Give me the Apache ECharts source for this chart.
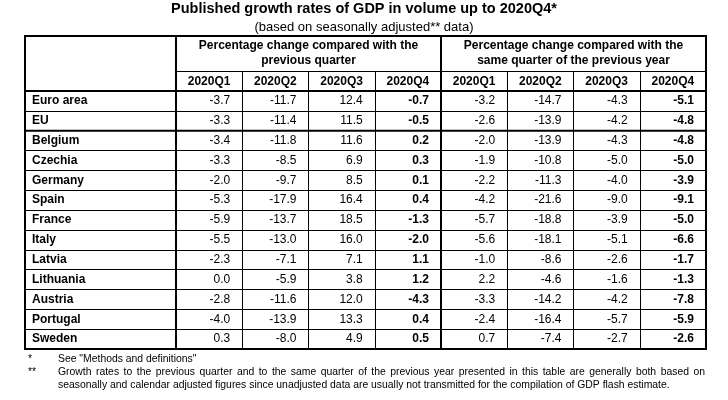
<!DOCTYPE html>
<html>
<head>
<meta charset="utf-8">
<title>Published growth rates of GDP</title>
<script src="https://cdn.jsdelivr.net/npm/echarts@6/dist/echarts.min.js"></script>
<style>
html, body { margin: 0; padding: 0; background: #fff; }
#main { width: 728px; height: 400px; }
</style>
</head>
<body>
<div id="main"></div>
<script>
var countries = ['Euro area', 'EU', 'Belgium', 'Czechia', 'Germany', 'Spain', 'France',
    'Italy', 'Latvia', 'Lithuania', 'Austria', 'Portugal', 'Sweden'];
var quarters = ['2020Q1', '2020Q2', '2020Q3', '2020Q4'];
var groupHeaders = ['Percentage change compared with the\nprevious quarter',
    'Percentage change compared with the\nsame quarter of the previous year'];

// change on previous quarter
var qoqQ1 = [-3.7, -3.3, -3.4, -3.3, -2.0, -5.3, -5.9, -5.5, -2.3, 0.0, -2.8, -4.0, 0.3];
var qoqQ2 = [-11.7, -11.4, -11.8, -8.5, -9.7, -17.9, -13.7, -13.0, -7.1, -5.9, -11.6, -13.9, -8.0];
var qoqQ3 = [12.4, 11.5, 11.6, 6.9, 8.5, 16.4, 18.5, 16.0, 7.1, 3.8, 12.0, 13.3, 4.9];
var qoqQ4 = [-0.7, -0.5, 0.2, 0.3, 0.1, 0.4, -1.3, -2.0, 1.1, 1.2, -4.3, 0.4, 0.5];
// change on same quarter of previous year
var yoyQ1 = [-3.2, -2.6, -2.0, -1.9, -2.2, -4.2, -5.7, -5.6, -1.0, 2.2, -3.3, -2.4, 0.7];
var yoyQ2 = [-14.7, -13.9, -13.9, -10.8, -11.3, -21.6, -18.8, -18.1, -8.6, -4.6, -14.2, -16.4, -7.4];
var yoyQ3 = [-4.3, -4.2, -4.3, -5.0, -4.0, -9.0, -3.9, -5.1, -2.6, -1.6, -4.2, -5.7, -2.7];
var yoyQ4 = [-5.1, -4.8, -4.8, -5.0, -3.9, -9.1, -5.0, -6.6, -1.7, -1.3, -7.8, -5.9, -2.6];

var note1 = 'See "Methods and definitions"';
var note2a = 'Growth rates to the previous quarter and to the same quarter of the previous year presented in this table are generally both based on';
var note2b = 'seasonally and calendar adjusted figures since unadjusted data are usually not transmitted for the compilation of GDP flash estimate.';

var FONT = '"Liberation Sans", Arial, sans-serif';
var NOTE_FONT = '10.4px ' + FONT;

// table frame
var tLeft = 25, tTop = 36, tRight = 706, tBottom = 349;
var nameRight = 176, bodyTop = 91;
var midLine = 441;
var rowH = (tBottom - bodyTop) / countries.length;

var columns = [qoqQ1, qoqQ2, qoqQ3, qoqQ4, yoyQ1, yoyQ2, yoyQ3, yoyQ4];
var colKeys = ['qoq1', 'qoq2', 'qoq3', 'qoq4', 'yoy1', 'yoy2', 'yoy3', 'yoy4'];
var cells = [];
for (var c = 0; c < columns.length; c++) {
    for (var r = 0; r < countries.length; r++) {
        cells.push([c, r, columns[c][r], c % 4 === 3 ? 1 : 0]);
    }
}
var nameCells = [];
for (var i = 0; i < countries.length; i++) {
    nameCells.push([0, i]);
}

var chart = echarts.init(document.getElementById('main'));

// footnote first line is justified, place word by word
var ctx = document.createElement('canvas').getContext('2d');
ctx.font = NOTE_FONT;
function justify(text, x0, x1, y) {
    var words = text.split(' ');
    var w = 0;
    for (var k = 0; k < words.length; k++) w += ctx.measureText(words[k]).width;
    var gap = (x1 - x0 - w) / (words.length - 1);
    var x = x0, out = [];
    for (var k = 0; k < words.length; k++) {
        out.push({
            type: 'text', x: x, y: y,
            style: { text: words[k], font: NOTE_FONT, fill: '#000', verticalAlign: 'middle' }
        });
        x += ctx.measureText(words[k]).width + gap;
    }
    return out;
}

var lineStyle = { stroke: '#000', lineWidth: 2 };
var graphics = [
    { type: 'rect', shape: { x: tLeft, y: tTop, width: tRight - tLeft, height: tBottom - tTop }, style: { fill: 'none', stroke: '#000', lineWidth: 2 } },
    { type: 'line', shape: { x1: nameRight, y1: tTop, x2: nameRight, y2: tBottom }, style: lineStyle },
    { type: 'line', shape: { x1: midLine, y1: tTop, x2: midLine, y2: tBottom }, style: lineStyle },
    { type: 'line', shape: { x1: tLeft, y1: bodyTop, x2: tRight, y2: bodyTop }, style: lineStyle },
    { type: 'line', shape: { x1: tLeft, y1: bodyTop + 2 * rowH, x2: tRight, y2: bodyTop + 2 * rowH }, style: lineStyle },
    { type: 'text', x: 28, y: 359, style: { text: '*', font: NOTE_FONT, fill: '#000', verticalAlign: 'middle' } },
    { type: 'text', x: 58, y: 359, style: { text: note1, font: NOTE_FONT, fill: '#000', verticalAlign: 'middle' } },
    { type: 'text', x: 28, y: 372, style: { text: '**', font: NOTE_FONT, fill: '#000', verticalAlign: 'middle' } },
    { type: 'text', x: 58, y: 385, style: { text: note2b, font: NOTE_FONT, fill: '#000', verticalAlign: 'middle' } }
].concat(justify(note2a, 58, 705, 372));

var catY = {
    type: 'category', data: countries, inverse: true,
    axisLine: { show: false }, axisTick: { show: false }, axisLabel: { show: false, interval: 0 },
    splitLine: { show: true, interval: 0, lineStyle: { color: '#000', width: 1 } }
};

var option = {
    animation: false,
    backgroundColor: '#fff',
    title: {
        text: 'Published growth rates of GDP in volume up to 2020Q4*',
        subtext: '(based on seasonally adjusted** data)',
        left: 'center',
        top: 1,
        itemGap: 5,
        padding: [0, 0, 0, 0],
        textStyle: { fontSize: 14.5, fontWeight: 'bold', color: '#000', fontFamily: FONT },
        subtextStyle: { fontSize: 13, color: '#000', fontFamily: FONT }
    },
    grid: [
        { left: tLeft, top: bodyTop, width: nameRight - tLeft, height: tBottom - bodyTop },
        { left: nameRight, top: bodyTop, width: tRight - nameRight, height: tBottom - bodyTop }
    ],
    xAxis: [
        {
            gridIndex: 0, type: 'category', data: [''], position: 'top',
            axisLine: { show: true, lineStyle: { color: '#000', width: 2 } },
            axisTick: { show: false }, axisLabel: { show: false }, splitLine: { show: false }
        },
        {
            gridIndex: 1, type: 'category', data: colKeys, position: 'top',
            axisLine: { show: true, lineStyle: { color: '#000', width: 2 } },
            axisTick: { show: true, length: 20, interval: 0, lineStyle: { color: '#000', width: 1 } },
            axisLabel: {
                interval: 0, margin: 3, color: '#000', fontSize: 12, fontWeight: 'bold', fontFamily: FONT,
                formatter: function (v, idx) { return quarters[idx % 4]; }
            },
            splitLine: { show: true, interval: 0, lineStyle: { color: '#000', width: 1 } }
        },
        {
            gridIndex: 1, type: 'category', data: groupHeaders, position: 'top', offset: 20,
            axisLine: { show: true, lineStyle: { color: '#000', width: 1 } },
            axisTick: { show: true, length: 35, interval: 0, lineStyle: { color: '#000', width: 1 } },
            axisLabel: {
                interval: 0, margin: 3, lineHeight: 15, color: '#000', fontSize: 12,
                fontWeight: 'bold', fontFamily: FONT, align: 'center'
            },
            splitLine: { show: false }
        }
    ],
    yAxis: [
        Object.assign({ gridIndex: 0 }, catY),
        Object.assign({ gridIndex: 1 }, catY)
    ],
    series: [
        {
            type: 'custom', xAxisIndex: 0, yAxisIndex: 0, silent: true,
            data: nameCells,
            renderItem: function (params, api) {
                var p = api.coord([api.value(0), api.value(1)]);
                var s = api.size([1, 1]);
                return {
                    type: 'text',
                    style: {
                        text: countries[params.dataIndex],
                        x: p[0] - s[0] / 2 + 7, y: p[1],
                        align: 'left', verticalAlign: 'middle',
                        font: 'bold 12px ' + FONT, fill: '#000'
                    }
                };
            }
        },
        {
            type: 'custom', xAxisIndex: 1, yAxisIndex: 1, silent: true,
            data: cells,
            renderItem: function (params, api) {
                var p = api.coord([api.value(0), api.value(1)]);
                var s = api.size([1, 1]);
                return {
                    type: 'text',
                    style: {
                        text: api.value(2).toFixed(1),
                        x: p[0] + s[0] / 2 - 12, y: p[1],
                        align: 'right', verticalAlign: 'middle',
                        font: (api.value(3) ? 'bold ' : '') + '12px ' + FONT, fill: '#000'
                    }
                };
            }
        }
    ],
    graphic: graphics
};
chart.setOption(option);
</script>
</body>
</html>
